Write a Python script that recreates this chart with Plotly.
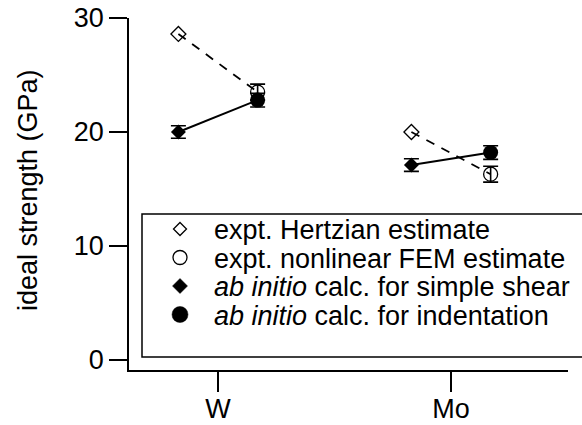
import plotly.graph_objects as go

# ---- data ----
categories = ["W", "Mo"]
positions = [1, 2]
hertzian = [28.6, 20.0]
fem = [23.5, 16.3]
fem_err = [0.7, 0.7]
shear = [20.0, 17.1]
shear_err = [0.55, 0.55]
indent = [22.8, 18.2]
indent_err = [0.6, 0.6]
y_ticks = [0, 10, 20, 30]
legend_labels = [
    "expt. Hertzian estimate",
    "expt. nonlinear FEM estimate",
    "<i>ab initio</i> calc. for simple shear",
    "<i>ab initio</i> calc. for indentation",
]
y_title = "ideal strength (GPa)"

# ---- layout constants ----
W, H = 582, 425
FONT = "Liberation Sans, Arial, Helvetica, sans-serif"
FS = 27
off = 0.17
xl = [p - off for p in positions]
xr = [p + off for p in positions]


def segments(x0s, y0s, x1s, y1s):
    xs, ys = [], []
    for a, b, c, d in zip(x0s, y0s, x1s, y1s):
        xs += [a, c, None]
        ys += [b, d, None]
    return xs, ys


def px(x):
    return x / W


def py(y):
    return 1 - y / H


fig = go.Figure()

dx, dy = segments(xl, hertzian, xr, fem)
fig.add_trace(go.Scatter(x=dx, y=dy, mode="lines",
                         line=dict(color="black", width=1.8, dash="9px,8px"),
                         hoverinfo="skip"))
sx, sy = segments(xl, shear, xr, indent)
fig.add_trace(go.Scatter(x=sx, y=sy, mode="lines",
                         line=dict(color="black", width=2), hoverinfo="skip"))

eb = dict(type="data", color="black", thickness=1.6, width=7.5)

fig.add_trace(go.Scatter(x=xl, y=hertzian, mode="markers",
                         marker=dict(symbol="diamond-open", size=11.5, color="black",
                                     line=dict(width=1.3, color="black"))))
fig.add_trace(go.Scatter(x=xl, y=shear, mode="markers",
                         error_y=dict(array=shear_err, **eb),
                         marker=dict(symbol="diamond", size=11.5, color="black")))
fig.add_trace(go.Scatter(x=xr, y=fem, mode="markers",
                         error_y=dict(array=fem_err, **eb),
                         marker=dict(symbol="circle-open", size=14, color="black",
                                     line=dict(width=1.3, color="black"))))
fig.add_trace(go.Scatter(x=xr, y=indent, mode="markers",
                         error_y=dict(array=indent_err, **eb),
                         marker=dict(symbol="circle", size=15, color="black")))

# ---- hand-drawn legend (shapes + annotations in paper coordinates) ----
rows = [229, 257.5, 286, 314.5]
sym_x = 180
shapes = [dict(type="rect", xref="paper", yref="paper",
               x0=px(142), x1=1.02, y0=py(357), y1=py(214),
               line=dict(color="black", width=1.5), fillcolor="rgba(0,0,0,0)",
               layer="above")]


def diamond_path(cx, cy, r):
    return (f"M {px(cx)},{py(cy - r)} L {px(cx + r)},{py(cy)} "
            f"L {px(cx)},{py(cy + r)} L {px(cx - r)},{py(cy)} Z")


# open diamond
shapes.append(dict(type="path", xref="paper", yref="paper", path=diamond_path(sym_x, rows[0], 6.5),
                   line=dict(color="black", width=1.3), fillcolor="rgba(0,0,0,0)", layer="above"))
# open circle
shapes.append(dict(type="circle", xref="paper", yref="paper",
                   x0=px(sym_x - 7), x1=px(sym_x + 7), y0=py(rows[1] + 7), y1=py(rows[1] - 7),
                   line=dict(color="black", width=1.3), fillcolor="rgba(0,0,0,0)", layer="above"))
# filled diamond
shapes.append(dict(type="path", xref="paper", yref="paper", path=diamond_path(sym_x, rows[2], 7.5),
                   line=dict(color="black", width=0.5), fillcolor="black", layer="above"))
# filled circle
shapes.append(dict(type="circle", xref="paper", yref="paper",
                   x0=px(sym_x - 8), x1=px(sym_x + 8), y0=py(rows[3] + 8), y1=py(rows[3] - 8),
                   line=dict(color="black", width=0.5), fillcolor="black", layer="above"))

annotations = []
for r, lab in zip(rows, legend_labels):
    annotations.append(dict(x=px(212), y=py(r + 1), xref="paper", yref="paper",
                            text=lab, showarrow=False, xanchor="left", yanchor="middle",
                            font=dict(family=FONT, size=FS, color="black")))
annotations.append(dict(x=px(28), y=py(190), xref="paper", yref="paper",
                        text=y_title, textangle=-90, showarrow=False,
                        xanchor="center", yanchor="middle",
                        font=dict(family=FONT, size=FS, color="black")))

fig.update_layout(
    width=W, height=H,
    margin=dict(l=0, r=0, t=0, b=0, pad=0, autoexpand=False),
    paper_bgcolor="white", plot_bgcolor="white",
    showlegend=False,
    font=dict(family=FONT, size=FS, color="black"),
    xaxis=dict(domain=[px(129), px(568)], range=[0.618, 2.502], autorange=False,
               tickmode="array", tickvals=positions, ticktext=categories,
               showline=True, linecolor="black", linewidth=1.5,
               ticks="outside", ticklen=20, tickwidth=1.5, tickcolor="black",
               ticklabelstandoff=-6, automargin=False,
               showgrid=False, zeroline=False, fixedrange=True,
               tickfont=dict(family=FONT, size=FS, color="black")),
    yaxis=dict(domain=[py(370), py(18)], range=[-0.875, 30], autorange=False,
               tickmode="array", tickvals=y_ticks, automargin=False,
               showline=True, linecolor="black", linewidth=1.5,
               ticks="outside", ticklen=18, tickwidth=1.5, tickcolor="black",
               showgrid=False, zeroline=False, fixedrange=True,
               tickfont=dict(family=FONT, size=FS, color="black")),
    annotations=annotations,
    shapes=shapes,
)

fig.write_html("out.html")
